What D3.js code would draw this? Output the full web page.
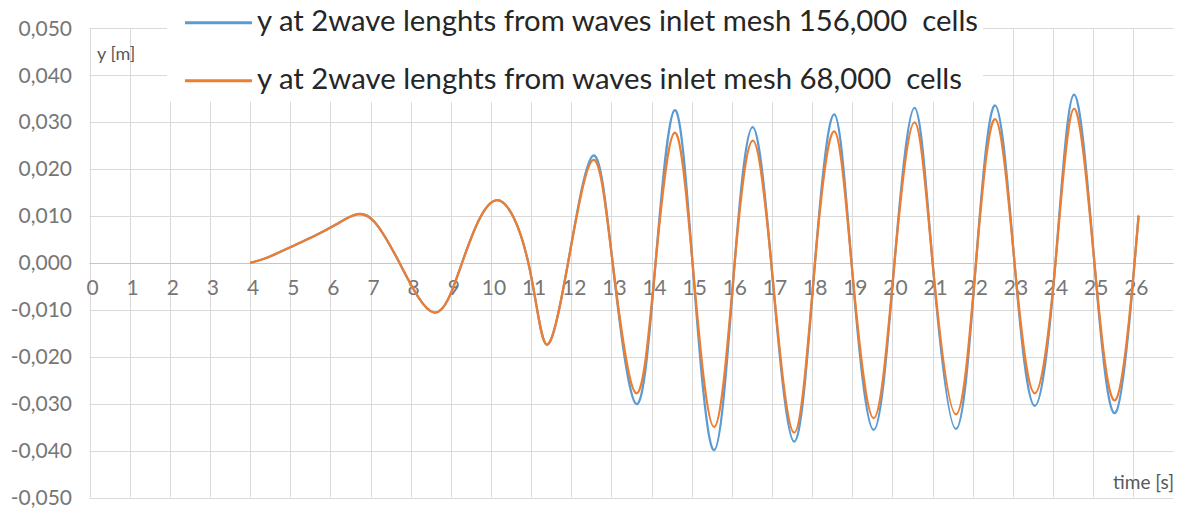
<!DOCTYPE html>
<html><head><meta charset="utf-8">
<script src="https://cdn.jsdelivr.net/npm/d3@7"></script>
<style>
body{margin:0;background:#fff}
svg{display:block}
text{font-family:Lato,'Open Sans',sans-serif}
</style>
</head><body>
<svg id="chart" width="1183" height="512"></svg>
<script>
// ---- data ----
const xTicks = d3.range(0, 27);
const yTicks = [-0.05, -0.04, -0.03, -0.02, -0.01, 0, 0.01, 0.02, 0.03, 0.04, 0.05];
const time = [4.0, 4.4, 5.0, 5.6, 6.15, 6.65, 7.1, 7.72, 8.58, 9.28, 10.12, 10.93, 11.38, 11.92,
  12.54, 13.03, 13.62, 14.10, 14.57, 15.02, 15.56, 16.07, 16.52, 16.98, 17.55, 18.07,
  18.55, 18.98, 19.53, 20.05, 20.55, 21.00, 21.58, 22.08, 22.56, 23.04, 23.54, 24.06,
  24.52, 25.03, 25.56, 26.03, 26.13];
const blueY = [0, 0.0010, 0.0033, 0.0057, 0.0082, 0.0103, 0.0087, 0, -0.0106, 0, 0.0133, 0, -0.0174, 0,
  0.0228, 0, -0.0301, 0, 0.0325, 0, -0.0399, 0, 0.0289, 0, -0.0381, 0,
  0.0316, 0, -0.0356, 0, 0.0330, 0, -0.0354, 0, 0.0335, 0, -0.0305, 0,
  0.0358, 0, -0.0319, 0, 0.0100];
const orangeY = [0, 0.0010, 0.0033, 0.0057, 0.0082, 0.0103, 0.0087, 0, -0.0106, 0, 0.0133, 0, -0.0174, 0,
  0.0219, 0, -0.0278, 0, 0.0277, 0, -0.0350, 0, 0.0260, 0, -0.0362, 0,
  0.0280, 0, -0.0331, 0, 0.0299, 0, -0.0323, 0, 0.0306, 0, -0.0278, 0,
  0.0328, 0, -0.0292, 0, 0.0100];
const seriesNames = ["y at 2wave lenghts from waves inlet mesh 156,000  cells",
                     "y at 2wave lenghts from waves inlet mesh 68,000  cells"];
const seriesColors = ["#5B9BD5", "#ED7D31"];
const yTitle = "y [m]";
const xTitle = "time [s]";

// ---- layout ----
const svg = d3.select("#chart");
const L = 89.5, R = 1173.5, T = 28, B = 497.5;
const x = d3.scaleLinear().domain([0, 27]).range([L, R]);
const y = d3.scaleLinear().domain([-0.05, 0.05]).range([B, T]);
const fmt = v => (v < -1e-9 ? "-" : "") + Math.abs(v).toFixed(3).replace(".", ",");

// gridlines
const grid = svg.append("g").attr("stroke", "#DADADA").attr("stroke-width", 1);
grid.selectAll("line.h").data(yTicks).join("line")
  .attr("x1", L).attr("x2", R)
  .attr("y1", d => Math.round(y(d)) + 0.5).attr("y2", d => Math.round(y(d)) + 0.5);
grid.selectAll("line.v").data(xTicks).join("line")
  .attr("y1", T).attr("y2", B)
  .attr("x1", d => Math.round(x(d)) + 0.5).attr("x2", d => Math.round(x(d)) + 0.5);

// x axis line at zero
svg.append("line").attr("x1", L).attr("x2", R)
  .attr("y1", Math.round(y(0)) + 0.5).attr("y2", Math.round(y(0)) + 0.5)
  .attr("stroke", "#C6C6C6").attr("stroke-width", 1);

// y tick labels
svg.append("g").selectAll("text").data(yTicks).join("text")
  .attr("x", 72).attr("y", d => y(d)).attr("dy", "0.36em")
  .attr("text-anchor", "end").attr("font-size", 21).attr("fill", "#767676")
  .text(fmt);

// x tick labels
svg.append("g").selectAll("text").data(xTicks).join("text")
  .attr("x", d => x(d) + 3).attr("y", y(0) + 32)
  .attr("text-anchor", "middle").attr("font-size", 21).attr("fill", "#767676")
  .text(d => d);

// axis titles
svg.append("text").attr("x", 97).attr("y", 60).attr("font-size", 18).attr("fill", "#595959").text(yTitle);
svg.append("text").attr("x", 1174).attr("y", 489).attr("text-anchor", "end")
  .attr("font-size", 19).attr("fill", "#595959").text(xTitle);

// series
const line = d3.line().x(d => x(d[0])).y(d => y(d[1])).curve(d3.curveNatural);
[blueY, orangeY].forEach((vals, i) => {
  svg.append("path").datum(time.map((t, j) => [t, vals[j]]))
    .attr("d", line).attr("fill", "none")
    .attr("stroke", seriesColors[i]).attr("stroke-width", 2.25)
    .attr("stroke-linejoin", "round");
});

// legend
svg.append("rect").attr("x", 167).attr("y", 0).attr("width", 816).attr("height", 102).attr("fill", "#fff");
const legY = [22.7, 80.7];
const legW = [721, 705];
seriesNames.forEach((name, i) => {
  svg.append("line").attr("x1", 185).attr("x2", 252).attr("y1", legY[i]).attr("y2", legY[i])
    .attr("stroke", seriesColors[i]).attr("stroke-width", 3);
  svg.append("text").attr("x", 257).attr("y", legY[i] + 8)
    .attr("font-size", 29).attr("fill", "#262626")
    .style("white-space", "pre")
    .attr("textLength", legW[i]).attr("lengthAdjust", "spacingAndGlyphs")
    .text(name);
});
</script>
</body></html>
